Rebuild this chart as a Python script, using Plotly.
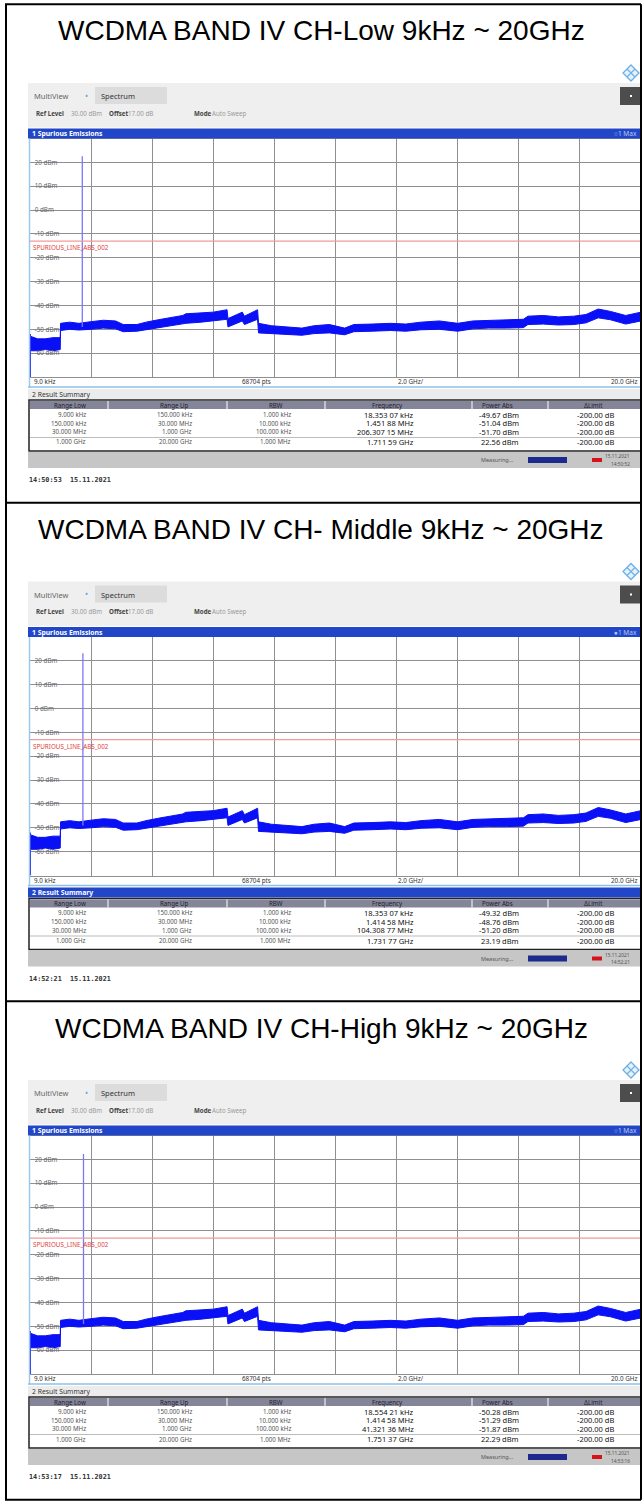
import plotly.graph_objects as go

# ---------------------------------------------------------------- page
W, H = 642, 1501
ROW_TOP = 4.3
ROW_PITCH = 498.5
SCREEN_FONT = "Noto Sans"
MONO_FONT = "DejaVu Sans Mono"

TITLES = [
    "WCDMA BAND IV CH-Low 9kHz ~ 20GHz",
    "WCDMA BAND IV CH- Middle 9kHz ~ 20GHz",
    "WCDMA BAND IV CH-High 9kHz ~ 20GHz",
]

# ---------------------------------------------------------------- sweep
F_START_GHZ = 0.0
F_STOP_GHZ = 20.0
GRID_STEP_GHZ = 2.0
REF_LEVEL_DBM = 30
BOTTOM_DBM = -70
LIMIT_DBM = -13
LIMIT_NAME = "SPURIOUS_LINE_ABS_002"
Y_TICKS_DBM = [20, 10, 0, -10, -20, -30, -40, -50, -60]

# max-hold noise floor, upper / lower edge of the trace band
FLOOR_FREQ_GHZ = [0.03, 0.25, 0.5, 0.75, 0.99, 1.0, 1.3, 1.6, 2.0, 2.4,
                  2.8, 3.05, 3.5, 3.8, 4.2, 4.6, 5.0, 5.1, 5.6, 6.0,
                  6.45, 6.48, 6.95, 7.02, 7.45, 7.48, 7.9, 8.4, 8.9, 9.3,
                  9.8, 10.3, 10.6, 11.2, 11.8, 12.3, 12.8, 13.4, 14.0, 14.5,
                  15.0, 15.6, 16.15, 16.3, 16.8, 17.3, 17.8, 18.2, 18.6, 19.0,
                  19.5, 20.0]
FLOOR_HI_DBM = [-53.0, -54.0, -54.0, -53.5, -53.5, -47.5, -47.0, -47.5, -46.8, -46.2,
                -46.5, -48.0, -48.0, -47.0, -46.0, -45.0, -44.2, -43.5, -43.2, -42.8,
                -41.8, -45.5, -42.8, -44.5, -41.8, -47.5, -48.5, -49.0, -49.5, -48.5,
                -48.0, -49.5, -48.0, -47.8, -47.5, -47.8, -47.0, -46.5, -47.5, -46.5,
                -46.2, -46.0, -45.8, -44.5, -44.2, -44.8, -44.5, -43.8, -41.5, -42.5,
                -44.2, -42.8]
FLOOR_LO_DBM = [-59.0, -59.0, -58.5, -59.0, -58.5, -50.5, -50.0, -50.3, -50.0, -49.5,
                -49.8, -51.0, -50.8, -50.2, -49.5, -48.8, -48.0, -47.5, -47.0, -46.5,
                -45.8, -49.0, -46.5, -48.0, -45.8, -51.5, -51.8, -52.2, -52.5, -51.8,
                -51.5, -52.3, -51.0, -50.8, -50.5, -50.8, -50.2, -50.0, -50.8, -49.8,
                -49.5, -49.5, -49.3, -48.0, -47.8, -48.2, -48.0, -47.3, -45.2, -46.0,
                -47.8, -46.5]
# 9 kHz .. 30 MHz sub-ranges squeezed into the first pixel column
LF_FREQ_GHZ = [0.004, 0.004]
LF_DBM = [-70, -52]

# carrier peak per channel (also listed in the result table)
PEAK_FREQ_GHZ = [1.71159, 1.73177, 1.75137]
PEAK_DBM = [22.56, 23.19, 22.29]
PEAK_BASE_DBM = -49

# ---------------------------------------------------------------- result summary
TABLE_HEAD = ["Range Low", "Range Up", "RBW", "Frequency", "Power Abs", "\u0394Limit"]
RANGE_LOW = ["9.000 kHz", "150.000 kHz", "30.000 MHz", "1.000 GHz"]
RANGE_UP = ["150.000 kHz", "30.000 MHz", "1.000 GHz", "20.000 GHz"]
RBW = ["1.000 kHz", "10.000 kHz", "100.000 kHz", "1.000 MHz"]
RESULT_FREQ = [
    ["18.353 07 kHz", "1.451 88 MHz", "206.307 15 MHz", "1.711 59 GHz"],
    ["18.353 07 kHz", "1.414 58 MHz", "104.308 77 MHz", "1.731 77 GHz"],
    ["18.554 21 kHz", "1.414 58 MHz", "41.321 36 MHz", "1.751 37 GHz"],
]
RESULT_POWER_DBM = [
    [-49.67, -51.04, -51.70, 22.56],
    [-49.32, -48.76, -51.20, 23.19],
    [-50.28, -51.29, -51.87, 22.29],
]
RESULT_DLIMIT_DB = -200.00
STATUS_DATE = "15.11.2021"
STATUS_TIME = ["14:50:52", "14:52:21", "14:53:16"]
SCREEN_STAMP = ["14:50:53\u00a0\u00a015.11.2021",
                "14:52:21\u00a0\u00a015.11.2021",
                "14:53:17\u00a0\u00a015.11.2021"]

# ---------------------------------------------------------------- helpers
shapes, annots = [], []


def X(p):
    return p / W


def Y(p):
    return 1 - p / H


def rect(x0, y0, x1, y1, fill, line=None, lw=0, layer="above"):
    shapes.append(dict(type="rect", xref="paper", yref="paper",
                       x0=X(x0), x1=X(x1), y0=Y(y1), y1=Y(y0),
                       fillcolor=fill, layer=layer,
                       line=dict(color=line or fill, width=lw)))


def seg(x0, y0, x1, y1, color, lw=1):
    shapes.append(dict(type="line", xref="paper", yref="paper",
                       x0=X(x0), x1=X(x1), y0=Y(y0), y1=Y(y1),
                       line=dict(color=color, width=lw)))


def text(x, y, s, size, color, anchor="left", family=SCREEN_FONT):
    annots.append(dict(xref="paper", yref="paper", x=X(x), y=Y(y), text=s,
                       showarrow=False, xanchor=anchor, yanchor="middle",
                       borderpad=0, font=dict(size=size, color=color, family=family)))


BLUE_BAR = "#2146c7"
GRID = "#8f8f8f"
TRACE = "#0a10f5"

fig = go.Figure()

for k in range(3):
    o = ROW_TOP + k * ROW_PITCH - 4.3
    ax = "" if k == 0 else str(k + 1)
    xa, ya = "x" + ax, "y" + ax

    # caption row
    text(321, 31 + o, TITLES[k], 28, "#000", "center", "Liberation Sans")

    # instrument header
    rect(28, 83 + o, 642, 127.5 + o, "#efefef")
    rect(95, 87 + o, 167, 104 + o, "#dcdcdc")
    text(33, 96 + o, "MultiView", 7.5, "#666")
    text(84, 95 + o, "\u2022", 8, "#58a8e4")
    text(100, 96 + o, "Spectrum", 7.5, "#333")
    text(35, 113 + o, "<b>Ref Level</b>", 6.2, "#444")
    text(70, 113 + o, "30.00 dBm", 6.2, "#999")
    text(108, 113 + o, "<b>Offset</b>", 6.2, "#444")
    text(127, 113 + o, "17.00 dB", 6.2, "#999")
    text(193, 113 + o, "<b>Mode</b>", 6.2, "#444")
    text(211, 113 + o, "Auto Sweep", 6.2, "#999")
    rect(620, 87 + o, 642, 105 + o, "#4d4d4d")
    rect(630, 95 + o, 632, 97 + o, "#ffffff")
    # logo diamond
    cx, cy, r = 631, 73 + o, 8
    shapes.append(dict(type="path", xref="paper", yref="paper",
                       path=f"M {X(cx)},{Y(cy - r)} L {X(cx + r)},{Y(cy)} L {X(cx)},{Y(cy + r)} L {X(cx - r)},{Y(cy)} Z",
                       fillcolor="#e4f2fc", line=dict(color="#6db0e6", width=1.3)))
    shapes.append(dict(type="path", xref="paper", yref="paper",
                       path=f"M {X(cx - r / 2)},{Y(cy - r / 2)} L {X(cx + r / 2)},{Y(cy + r / 2)} "
                            f"M {X(cx + r / 2)},{Y(cy - r / 2)} L {X(cx - r / 2)},{Y(cy + r / 2)}",
                       line=dict(color="#6db0e6", width=1.1)))

    # diagram title bar
    rect(28, 128.5 + o, 642, 138.5 + o, BLUE_BAR)
    text(31, 133.5 + o, "<b>1 Spurious Emissions</b>", 6.8, "#ffffff")
    text(638, 133.5 + o, ("\u25cf" if k == 1 else "\u25cb") + "1 Max", 6.5, "#b9c8f2", "right")

    # panel side borders
    seg(29.5, 138.5 + o, 29.5, 388 + o, "#9cc8ea", 1.5)
    seg(641, 138.5 + o, 641, 388 + o, "#9cc8ea", 1.2)

    # label strip under the diagram
    text(33, 381.5 + o, "9.0 kHz", 6.3, "#333")
    text(256, 381.5 + o, "68704 pts", 6.3, "#333", "center")
    text(411, 381.5 + o, "2.0 GHz/", 6.3, "#333", "center")
    text(638, 381.5 + o, "20.0 GHz", 6.3, "#333", "right")
    seg(28, 387 + o, 642, 387 + o, "#8fc0e8", 1.5)

    # result summary window
    if k == 1:
        rect(28, 389 + o, 642, 399 + o, BLUE_BAR)
        text(31, 394 + o, "<b>2 Result Summary</b>", 6.8, "#ffffff")
    else:
        rect(28, 389 + o, 642, 399 + o, "#ececec")
        text(31, 394 + o, "2 Result Summary", 6.8, "#333")
    rect(29, 400 + o, 642, 451 + o, "#ffffff", "#222222", 1.5)
    rect(30, 401 + o, 642, 409 + o, "#85859a")
    for xd in (108, 227, 325, 472, 548):
        seg(xd, 401 + o, xd, 409 + o, "#ffffff", 1)
    for xh, h in zip((70, 175, 276, 387, 497, 593), TABLE_HEAD):
        text(xh, 405 + o, h, 6.2, "#1e1e2a", "center")
    seg(30, 437.5 + o, 642, 437.5 + o, "#aaaaaa", 0.8)
    row_y = (414.5, 423, 431.5, 442)
    for i, yy in enumerate(row_y):
        text(87, yy + o, RANGE_LOW[i], 6.2, "#555", "right")
        text(193, yy + o, RANGE_UP[i], 6.2, "#555", "right")
        text(292, yy + o, RBW[i], 6.2, "#555", "right")
        text(415, yy + o, RESULT_FREQ[k][i], 7.5, "#111", "right")
        text(520, yy + o, f"{RESULT_POWER_DBM[k][i]:.2f} dBm", 7.5, "#111", "right")
        text(615, yy + o, f"{RESULT_DLIMIT_DB:.2f} dB", 7.5, "#111", "right")

    # status line
    rect(28, 452 + o, 642, 468 + o, "#c6c6c6")
    text(480, 460 + o, "Measuring...", 5.5, "#555")
    rect(528, 457 + o, 567, 463 + o, "#1b2a8c")
    rect(592, 458 + o, 602, 462 + o, "#d8121b")
    text(631, 456 + o, STATUS_DATE, 4.8, "#555", "right")
    text(631, 463.5 + o, STATUS_TIME[k], 4.8, "#555", "right")

    text(28, 480 + o, "<b>" + SCREEN_STAMP[k] + "</b>", 6.8, "#333", "left", MONO_FONT)

    # ---------------- diagram axes
    y_top, y_bot = 138.5 + o, 377 + o
    fig.layout["xaxis" + ax] = dict(domain=[X(30), X(641)], range=[F_START_GHZ, F_STOP_GHZ],
                                    anchor=ya, tick0=0, dtick=GRID_STEP_GHZ,
                                    showgrid=True, gridcolor=GRID, gridwidth=1,
                                    showticklabels=False, ticks="", zeroline=False,
                                    showline=True, mirror=True, linecolor=GRID, linewidth=1,
                                    fixedrange=True)
    fig.layout["yaxis" + ax] = dict(domain=[Y(y_bot), Y(y_top)], range=[BOTTOM_DBM, REF_LEVEL_DBM],
                                    anchor=xa, tickmode="array", tickvals=Y_TICKS_DBM,
                                    ticktext=[f"{v} dBm" for v in Y_TICKS_DBM],
                                    ticklabelposition="inside", ticks="", ticklabelstandoff=3,
                                    tickfont=dict(size=6.3, color="#666", family=SCREEN_FONT),
                                    showgrid=True, gridcolor=GRID, gridwidth=1, zeroline=False,
                                    showline=True, mirror=True, linecolor=GRID, linewidth=1,
                                    fixedrange=True)

    # white patches under the level labels
    for v in Y_TICKS_DBM:
        shapes.append(dict(type="rect", xref="paper", yref=ya, x0=X(30.5), x1=X(55.5),
                           y0=v - 1.3, y1=v + 1.3, fillcolor="#ffffff",
                           line=dict(width=0), layer="between"))

    # limit line and its name
    shapes.append(dict(type="line", xref=xa, yref=ya, x0=F_START_GHZ, x1=F_STOP_GHZ,
                       y0=LIMIT_DBM, y1=LIMIT_DBM, line=dict(color="#f29a9a", width=1.2)))
    annots.append(dict(xref="paper", yref=ya, x=X(32), y=LIMIT_DBM, yshift=-1,
                       text=LIMIT_NAME, showarrow=False, xanchor="left", yanchor="top",
                       borderpad=0, font=dict(size=6.3, color="#e23b3b", family=SCREEN_FONT)))

    # trace band
    fig.add_trace(go.Scatter(x=FLOOR_FREQ_GHZ, y=FLOOR_LO_DBM, mode="lines",
                             line=dict(color=TRACE, width=1), xaxis=xa, yaxis=ya,
                             hoverinfo="skip", showlegend=False))
    fig.add_trace(go.Scatter(x=FLOOR_FREQ_GHZ, y=FLOOR_HI_DBM, mode="lines", fill="tonexty",
                             fillcolor=TRACE, line=dict(color=TRACE, width=1),
                             xaxis=xa, yaxis=ya, hoverinfo="skip", showlegend=False))
    fig.add_trace(go.Scatter(x=LF_FREQ_GHZ, y=LF_DBM, mode="lines",
                             line=dict(color=TRACE, width=1.6), xaxis=xa, yaxis=ya,
                             hoverinfo="skip", showlegend=False))
    fig.add_trace(go.Scatter(x=[PEAK_FREQ_GHZ[k], PEAK_FREQ_GHZ[k]], y=[PEAK_BASE_DBM, PEAK_DBM[k]],
                             mode="lines", line=dict(color="#7a7af5", width=1.3),
                             xaxis=xa, yaxis=ya, hoverinfo="skip", showlegend=False))

# table frame of the page
for k in range(4):
    yk = ROW_TOP + k * ROW_PITCH
    seg(5, yk, 641, yk, "#000000", 2)
seg(6, ROW_TOP, 6, ROW_TOP + 3 * ROW_PITCH, "#000000", 2)
seg(641, ROW_TOP, 641, ROW_TOP + 3 * ROW_PITCH, "#000000", 2)

fig.update_layout(width=W, height=H, margin=dict(l=0, r=0, t=0, b=0),
                  paper_bgcolor="#ffffff", plot_bgcolor="#ffffff",
                  shapes=shapes, annotations=annots, showlegend=False)

fig.write_html("out.html")
